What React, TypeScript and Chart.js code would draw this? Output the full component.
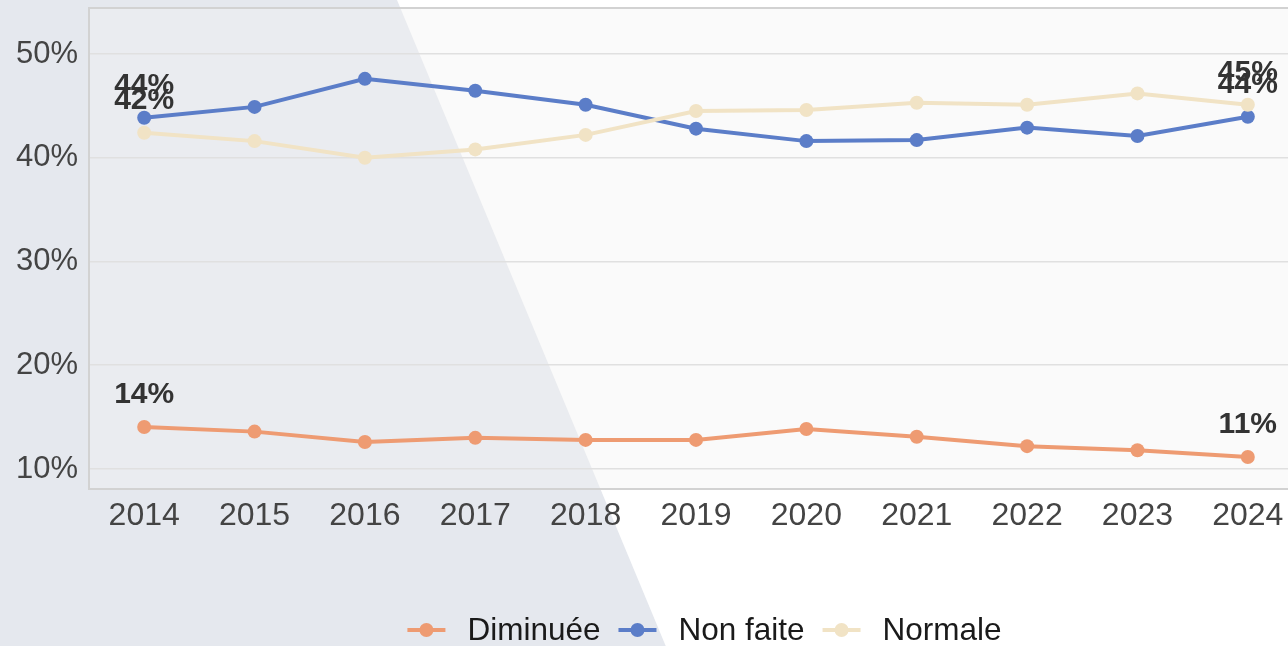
import React, { useEffect, useRef } from "react";
import { Chart, registerables } from "chart.js";

Chart.register(...registerables);

const years = ["2014", "2015", "2016", "2017", "2018", "2019", "2020", "2021", "2022", "2023", "2024"];
const diminuee = [14.05, 13.6, 12.6, 13.0, 12.8, 12.8, 13.85, 13.1, 12.2, 11.8, 11.15];
const nonFaite = [43.85, 44.9, 47.6, 46.45, 45.1, 42.8, 41.6, 41.7, 42.9, 42.1, 43.95];
const normale = [42.4, 41.6, 40.0, 40.8, 42.2, 44.5, 44.6, 45.3, 45.1, 46.2, 45.1];
const seriesNames = ["Diminuée", "Non faite", "Normale"];
const seriesColors = ["#ee9b72", "#5b7dc8", "#f1e3c5"];
const yTicks = [10, 20, 30, 40, 50];
const yMin = 8.07;
const yMax = 54.43;

const FONT = '"Liberation Sans", Arial, sans-serif';

const CANVAS_W = 1310;
const CANVAS_H = 646;

const decorPlugin = {
  id: "decor",
  beforeDraw(chart: any) {
    const { ctx, chartArea: a } = chart;
    ctx.save();
    ctx.fillStyle = "#ffffff";
    ctx.fillRect(0, 0, chart.width, chart.height);
    ctx.fillStyle = "#e5e8ee";
    ctx.beginPath();
    ctx.moveTo(0, 0);
    ctx.lineTo(397, 0);
    ctx.lineTo(397 + 0.416 * chart.height, chart.height);
    ctx.lineTo(0, chart.height);
    ctx.closePath();
    ctx.fill();
    ctx.fillStyle = "rgba(242,242,242,0.4)";
    ctx.fillRect(a.left, a.top, a.right - a.left, a.bottom - a.top);
    ctx.restore();
  },
  beforeDatasetsDraw(chart: any) {
    const { ctx, chartArea: a } = chart;
    ctx.save();
    ctx.strokeStyle = "#d2d2d2";
    ctx.lineWidth = 2;
    ctx.strokeRect(a.left, a.top, a.right - a.left, a.bottom - a.top);
    ctx.restore();
  },
  afterDatasetsDraw(chart: any) {
    const { ctx } = chart;
    ctx.save();
    ctx.font = `bold 30px ${FONT}`;
    ctx.fillStyle = "#333333";
    ctx.textAlign = "center";
    ctx.textBaseline = "middle";
    chart.data.datasets.forEach((ds: any, di: number) => {
      const meta = chart.getDatasetMeta(di);
      const n = ds.data.length;
      [0, n - 1].forEach((i) => {
        const pt = meta.data[i];
        ctx.fillText(Math.round(ds.data[i]) + "%", pt.x, pt.y - 32);
      });
    });
    ctx.restore();
  },
  afterDraw(chart: any) {
    const { ctx, chartArea: a } = chart;
    ctx.save();
    ctx.font = `31.5px ${FONT}`;
    ctx.textBaseline = "middle";
    const markerW = 38;
    const gapText = 22;
    const gapItem = 18;
    const widths = seriesNames.map((s) => ctx.measureText(s).width);
    const total =
      widths.reduce((s, w) => s + markerW + gapText + w, 0) + gapItem * (seriesNames.length - 1);
    let x = (a.left + a.right) / 2 + 8.5 - total / 2;
    const y = 630;
    seriesNames.forEach((name, i) => {
      ctx.strokeStyle = seriesColors[i];
      ctx.lineWidth = 4;
      ctx.beginPath();
      ctx.moveTo(x, y);
      ctx.lineTo(x + markerW, y);
      ctx.stroke();
      ctx.fillStyle = seriesColors[i];
      ctx.beginPath();
      ctx.arc(x + markerW / 2, y, 7, 0, Math.PI * 2);
      ctx.fill();
      x += markerW + gapText;
      ctx.fillStyle = "#1a1a1a";
      ctx.textAlign = "left";
      ctx.fillText(name, x, y + 1);
      x += widths[i] + gapItem;
    });
    ctx.restore();
  },
};

export default function App() {
  const ref = useRef<HTMLCanvasElement | null>(null);
  useEffect(() => {
    if (!ref.current) return;
    const seriesData = [diminuee, nonFaite, normale];
    const chart = new Chart(ref.current, {
      type: "line",
      data: {
        labels: years,
        datasets: seriesData.map((d, i) => ({
          label: seriesNames[i],
          data: d,
          borderColor: seriesColors[i],
          backgroundColor: seriesColors[i],
          borderWidth: 4,
          pointRadius: 7,
          pointBorderWidth: 0,
          pointHoverRadius: 7,
          tension: 0,
          fill: false,
          order: i === 2 ? 0 : i === 1 ? 1 : 2,
        })),
      },
      options: {
        responsive: false,
        animation: false,
        devicePixelRatio: 1,
        layout: { padding: { top: 8, right: 7, left: 0, bottom: 0 } },
        plugins: {
          legend: { display: false },
          tooltip: { enabled: false },
        },
        scales: {
          x: {
            type: "category",
            offset: true,
            grid: { display: false, drawTicks: false },
            border: { display: false },
            ticks: {
              color: "#444444",
              font: { family: FONT, size: 32 },
              padding: 8,
              maxRotation: 0,
              autoSkip: false,
            },
            afterFit(scale: any) {
              scale.height = 157;
              scale.paddingLeft = 0;
              scale.paddingRight = 0;
            },
          },
          y: {
            type: "linear",
            min: yMin,
            max: yMax,
            grid: { color: "#e0e0e0", lineWidth: 1.5, drawTicks: false },
            border: { display: false },
            ticks: {
              color: "#444444",
              font: { family: FONT, size: 31 },
              padding: 11,
              callback: (v: any) => v + "%",
            },
            afterBuildTicks(scale: any) {
              scale.ticks = yTicks.map((v) => ({ value: v }));
            },
            afterFit(scale: any) {
              scale.width = 89;
              scale.paddingTop = 0;
              scale.paddingBottom = 0;
            },
          },
        },
      },
      plugins: [decorPlugin],
    });
    return () => chart.destroy();
  }, []);
  return (
    <div
      style={{
        position: "fixed",
        left: 0,
        top: 0,
        width: 1288,
        height: 646,
        overflow: "hidden",
        background: "#ffffff",
      }}
    >
      <canvas
        ref={ref}
        width={CANVAS_W}
        height={CANVAS_H}
        style={{ width: CANVAS_W, height: CANVAS_H, display: "block" }}
      />
    </div>
  );
}
